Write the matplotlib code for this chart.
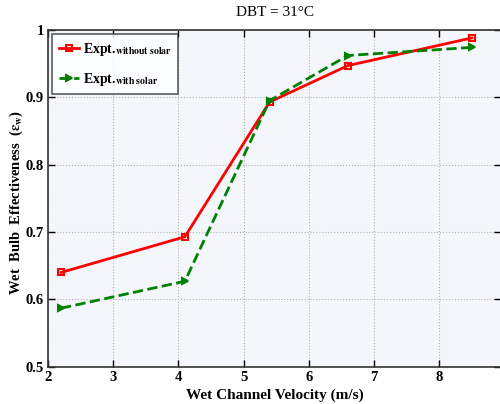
import matplotlib.pyplot as plt

velocity = [2.2, 4.1, 5.4, 6.6, 8.5]
eff_without_solar = [0.640, 0.693, 0.893, 0.947, 0.988]
eff_with_solar = [0.587, 0.627, 0.895, 0.962, 0.974]

xticks = [2, 3, 4, 5, 6, 7, 8]
yticks = [0.5, 0.6, 0.7, 0.8, 0.9, 1.0]
yticklabels = ['0.5', '0.6', '0.7', '0.8', '0.9', '1']

plt.rcParams['font.family'] = ['Liberation Serif', 'DejaVu Serif']
plt.rcParams['mathtext.fontset'] = 'stix'

fig = plt.figure(figsize=(5.0, 4.04), dpi=100)
ax = fig.add_axes([0.096, 0.092, 0.906, 0.834])
ax.set_facecolor('#f3f7fc')

ax.plot(velocity, eff_without_solar, '-', color='red', lw=2, marker='s',
        ms=5, mfc='none', mew=1.5, label=r'Expt.$_{\mathbf{without\ solar}}$')
ax.plot(velocity, eff_with_solar, '--', color='green', lw=2, marker='>',
        ms=5, mew=1.5, label=r'Expt.$_{\mathbf{with\ solar}}$')

ax.set_xlim(2, 8.95)
ax.set_ylim(0.5, 1.0)
ax.set_xticks(xticks)
ax.set_yticks(yticks)
ax.set_yticklabels(yticklabels)
ax.grid(True, ls=':', color='#b0b0b0', lw=0.8)
ax.tick_params(direction='in', top=True, right=True, length=5, width=1,
               labelsize=10.5, pad=3)
for lab in ax.get_xticklabels() + ax.get_yticklabels():
    lab.set_fontweight('bold')
for sp in ax.spines.values():
    sp.set_linewidth(1.2)
    sp.set_color('#333333')

ax.set_xlabel('Wet Channel Velocity (m/s)', fontsize=11, fontweight='bold', labelpad=3)
fig.text(0.032, 0.5, r'Wet  Bulb  Effectiveness  ($\mathbf{\epsilon_w}$)',
         rotation=90, ha='center', va='center', fontsize=10.5, fontweight='bold')
ax.set_title('DBT = 31°C', fontsize=11, pad=10)

leg = ax.legend(loc='upper left', prop={'weight': 'bold', 'size': 10},
                fancybox=False, edgecolor='#333333', borderpad=0.5,
                handlelength=1.4, handletextpad=0.3, labelspacing=0.9,
                borderaxespad=0.3)
leg.get_frame().set_linewidth(1.2)

fig.savefig('out.png', dpi=100)
